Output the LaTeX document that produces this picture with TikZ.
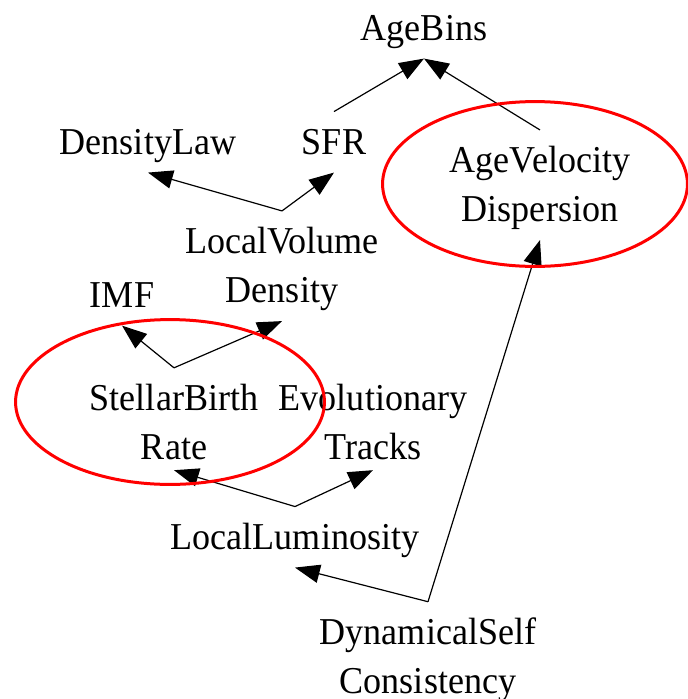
\documentclass[tikz,border=0pt]{standalone}
\usepackage{fontspec}
\setmainfont{Liberation Serif}[FakeStretch=0.95]
\usetikzlibrary{arrows.meta}

\begin{document}
\begin{tikzpicture}[x=0.025cm, y=-0.025cm,
  lbl/.style={inner sep=0.25cm, font=\fontsize{27}{34.9}\selectfont,
              text height=18.6pt, text depth=5.9pt, anchor=base},
  lbltwo/.style={inner sep=0.25cm, font=\fontsize{27}{34.9}\selectfont,
                 align=center},
  hl/.style={draw=red, line width=0.075cm},
  arr/.style={-{Triangle[length=0.62cm, width=0.46cm]}, line width=0.03cm}
]
\useasboundingbox (0,0) rectangle (687,699);

% Nodes
\node[lbl]    (bins) at (424,40)  {AgeBins};
\node[lbl]    (dlaw) at (148,154) {DensityLaw};
\node[lbl]    (sfr)  at (334,154) {SFR};
\node[lbltwo] (avd)  at (540,188) {AgeVelocity\\Dispersion};
\node[lbltwo] (lvd)  at (282,269) {LocalVolume\\Density};
\node[lbl]    (imf)  at (122,307) {IMF};
\node[lbltwo] (sbr)  at (174,422) {StellarBirth\\Rate};
\node[lbltwo] (evo)  at (373,422) {Evolutionary\\Tracks};
\node[lbl]    (llum) at (295,549) {LocalLuminosity};
\node[lbltwo] (dsc)  at (428,660) {DynamicalSelf\\Consistency};

% Fork points above the nodes
\foreach \n in {sfr,avd,lvd,sbr,llum,dsc}
  \coordinate (\n-top) at ([yshift=0.15cm]\n.north);

% Arrows
\draw[arr] (sfr-top)  -- (bins.south);
\draw[arr] (avd-top)  -- (bins.south);
\draw[arr] (lvd-top)  -- (dlaw.south);
\draw[arr] (lvd-top)  -- (sfr.south);
\draw[arr] (sbr-top)  -- (imf.south);
\draw[arr] (sbr-top)  -- (lvd.south);
\draw[arr] (llum-top) -- (sbr.south);
\draw[arr] (llum-top) -- (evo.south);
\draw[arr] (dsc-top)  -- (llum.south);
\draw[arr] (dsc-top)  -- (avd.south);

% Highlighted nodes
\draw[hl] (535,184) ellipse [x radius=3.81cm, y radius=2.06cm];
\draw[hl] (170,402) ellipse [x radius=3.86cm, y radius=2.06cm];
\end{tikzpicture}
\end{document}
